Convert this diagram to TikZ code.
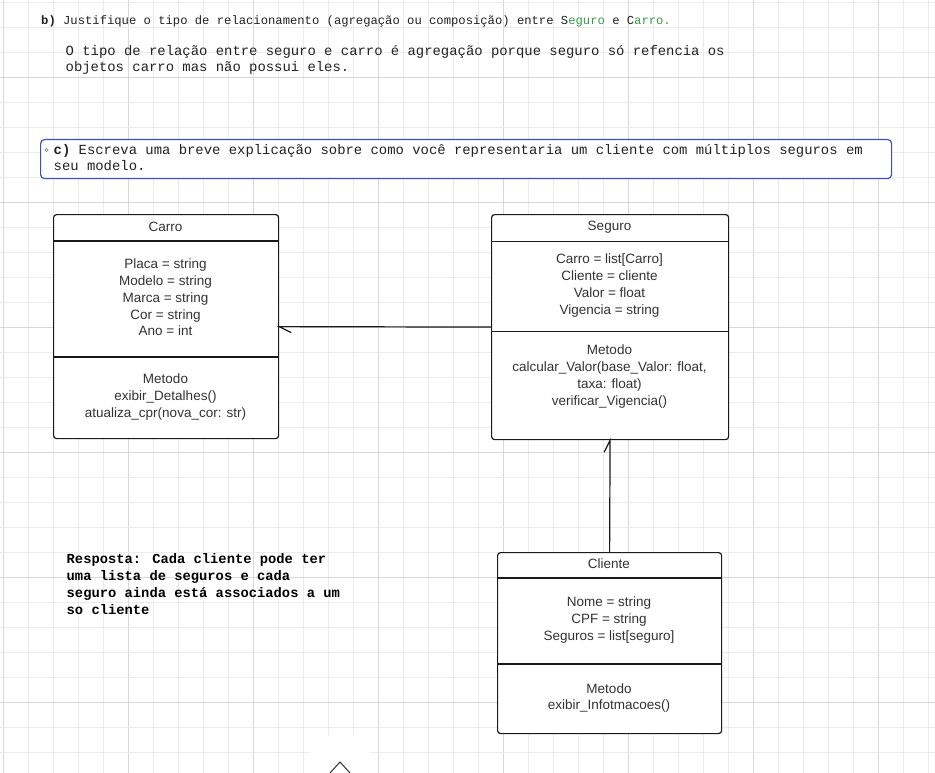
\documentclass[tikz,border=0pt]{standalone}
\usepackage{fontspec}
\setmainfont{Liberation Sans}
\newfontfamily\monofont{Liberation Mono}
\definecolor{umlline}{HTML}{1A1A1A}
\definecolor{umltxt}{HTML}{333333}
\definecolor{qtxt}{HTML}{222222}
\definecolor{qgreen}{HTML}{3A9A4A}
\definecolor{qblue}{HTML}{3C4FC4}
\definecolor{gridlight}{HTML}{EBEBEB}
\definecolor{griddark}{HTML}{D8D8D8}
\begin{document}
\begin{tikzpicture}[x=1pt,y=-1pt,
  gridminor/.style={draw=gridlight, line width=0.9pt},
  gridmajor/.style={draw=griddark, line width=0.9pt},
  classbox/.style={draw=umlline, line width=1.2pt, rounded corners=3pt, fill=white,
                   anchor=north west, inner sep=0pt},
  divider/.style={draw=umlline, line width=1.2pt},
  link/.style={draw=umlline, line width=1.2pt},
  umltext/.style={font=\fontsize{13.5}{16.7}\selectfont, text=umltxt, align=center, inner sep=0pt},
  smallmono/.style={font=\monofont\fontsize{12.2}{16}\selectfont, text=qtxt, anchor=base west, inner sep=0pt},
  mono/.style={font=\monofont\fontsize{13.9}{16}\selectfont, text=qtxt, anchor=base west, inner sep=0pt},
  answer/.style={font=\monofont\bfseries\fontsize{13.8}{17}\selectfont, text=black, anchor=base west, inner sep=0pt}
]
\useasboundingbox (0,0) rectangle (935,773);
\fill[white] (0,0) rectangle (935,773);

% background grid
\foreach \k in {0,...,37} {
  \pgfmathtruncatemacro{\m}{mod(\k,5)}
  \ifnum\m=0 \draw[gridmajor] (3+25*\k,0) -- (3+25*\k,773);
  \else \draw[gridminor] (3+25*\k,0) -- (3+25*\k,773); \fi
}
\foreach \k in {0,...,30} {
  \pgfmathtruncatemacro{\m}{mod(\k,5)}
  \ifnum\m=3 \draw[gridmajor] (0,2+25*\k) -- (935,2+25*\k);
  \else \draw[gridminor] (0,2+25*\k) -- (935,2+25*\k); \fi
}

% question b) and its answer
\node[smallmono] (qb) at (41,25) {{\bfseries b)} Justifique o tipo de relacionamento (agregação ou composição) entre S\textcolor{qgreen}{eguro} e C\textcolor{qgreen}{arro.}};
\node[mono] (ansb1) at (65.5,55.5) {O tipo de relação entre seguro e carro é agregação porque seguro só refencia os};
\node[mono] (ansb2) at (65.5,71.5) {objetos carro mas não possui eles.};

% question c) in its framed box
\node[draw=qblue, line width=1.2pt, rounded corners=4pt, fill=white, anchor=north west,
      minimum width=851pt, minimum height=39pt, inner sep=0pt] (qc) at (40,139) {};
\draw[black!45, line width=0.6pt] (46.5,150) circle (1.6pt);
\node[mono] (qc1) at (53.5,154.5) {{\bfseries c)} Escreva uma breve explicação sobre como você representaria um cliente com múltiplos seguros em};
\node[mono] (qc2) at (53.5,170.5) {seu modelo.};

% class Carro
\node[classbox, minimum width=225pt, minimum height=224pt] (carro) at (53,214) {};
\draw[divider] (carro.north west) ++(0,27) -- ++(225,0);
\draw[divider] (carro.north west) ++(0,143) -- ++(225,0);
\node[umltext] (carrotitle) at (165.5,227) {Carro};
\node[umltext] (carroattrs) at (165.5,297.5) {Placa = string\\Modelo = string\\Marca = string\\Cor = string\\Ano = int};
\node[umltext] (carroops) at (165.5,397) {Metodo\\exibir\_Detalhes()\\atualiza\_cpr(nova\_cor: str)};

% class Seguro
\node[classbox, minimum width=237pt, minimum height=225pt] (seguro) at (491,214) {};
\draw[divider] (seguro.north west) ++(0,27.5) -- ++(237,0);
\draw[divider] (seguro.north west) ++(0,117.5) -- ++(237,0);
\node[umltext] (segurotitle) at (609.5,227) {Seguro};
\node[umltext] (seguroattrs) at (609.5,285.5) {Carro = list[Carro]\\Cliente = cliente\\Valor = float\\Vigencia = string};
\node[umltext] (seguroops) at (609.5,376.5) {Metodo\\calcular\_Valor(base\_Valor: float,\\taxa: float)\\verificar\_Vigencia()};

% class Cliente
\node[classbox, minimum width=224pt, minimum height=181pt] (cliente) at (497,552) {};
\draw[divider] (cliente.north west) ++(0,26) -- ++(224,0);
\draw[divider] (cliente.north west) ++(0,112) -- ++(224,0);
\node[umltext] (clientetitle) at (609,564) {Cliente};
\node[umltext] (clienteattrs) at (609,620) {Nome = string\\CPF = string\\Seguros = list[seguro]};
\node[umltext] (clienteops) at (609,698) {Metodo\\exibir\_Infotmacoes()};

% associations with half-open heads
\draw[link] (seguro.west) -- (carro.east) -- ++(12,6);
\draw[link] (cliente.north) -- (seguro.south) -- ++(-6,12);

% answer to c)
\node[answer] (resp1) at (66.5,563.5) {Resposta: Cada cliente pode ter};
\node[answer] (resp2) at (66.5,580.5) {uma lista de seguros e cada};
\node[answer] (resp3) at (66.5,597.5) {seguro ainda está associados a um};
\node[answer] (resp4) at (66.5,614.5) {so cliente};

% toolbar handle at the bottom edge
\fill[white] (310,735) rectangle (370,773);
\draw[umltxt, line width=1pt] (330,773) -- (340,762) -- (350,773);
\end{tikzpicture}
\end{document}
